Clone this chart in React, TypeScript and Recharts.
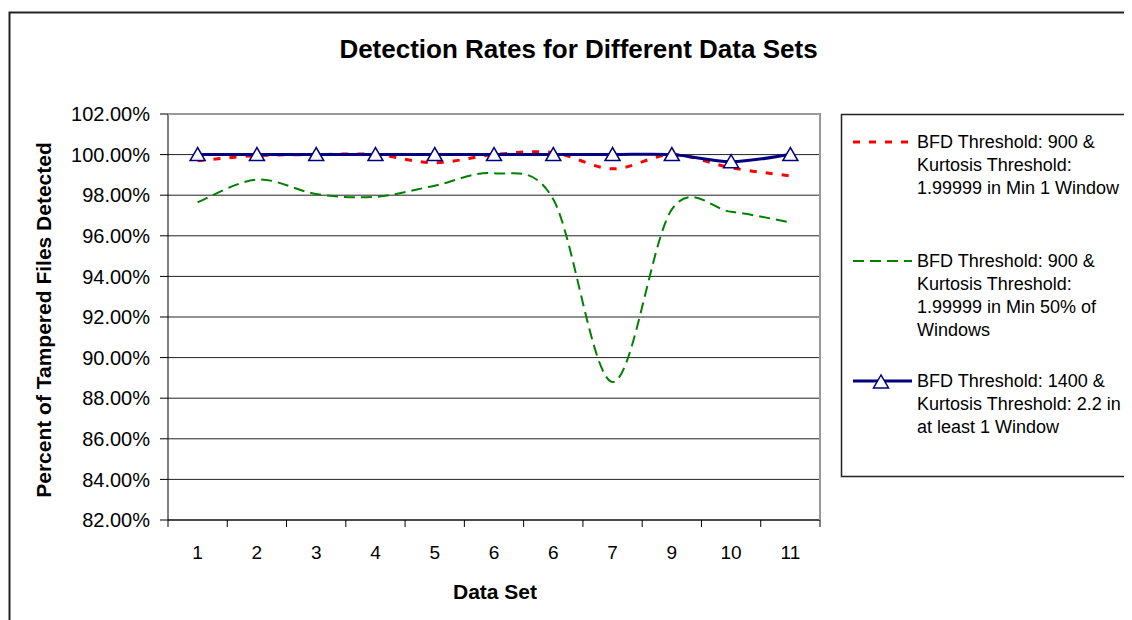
import React from "react";
import { LineChart, Line, XAxis, YAxis, CartesianGrid } from "recharts";

const dataSets = ["1", "2", "3", "4", "5", "6", "6", "7", "9", "10", "11"];
const bfd900Min1 = [99.7, 99.95, 100.0, 100.0, 99.6, 100.0, 100.1, 99.3, 100.0, 99.35, 98.95];
const bfd900Min50 = [97.65, 98.77, 98.06, 97.92, 98.47, 99.08, 97.8, 88.8, 97.3, 97.18, 96.66];
const bfd1400 = [100, 100, 100, 100, 100, 100, 100, 100, 100, 99.65, 100];
const yTicks = [82, 84, 86, 88, 90, 92, 94, 96, 98, 100, 102];

const legendLines = [
  ["BFD Threshold: 900 &", "Kurtosis Threshold:", "1.99999 in Min 1 Window"],
  ["BFD Threshold: 900 &", "Kurtosis Threshold:", "1.99999 in Min 50% of", "Windows"],
  ["BFD Threshold: 1400 &", "Kurtosis Threshold: 2.2 in", "at least 1 Window"],
];

const data = dataSets.map((set, i) => ({
  set,
  min1: bfd900Min1[i],
  min50: bfd900Min50[i],
  t1400: bfd1400[i],
}));

const W = 1124;
const H = 612;
const plot = { left: 160, top: 106, right: 812, bottom: 512 };
const band = (plot.right - plot.left) / dataSets.length;
const font = "'Liberation Sans', Arial, Helvetica, sans-serif";

// excel-like smoothed line (catmull-rom through every point)
const excelSmooth: any = (context: any) => {
  let pts: number[][] = [];
  return {
    areaStart() {},
    areaEnd() {},
    lineStart() {
      pts = [];
    },
    point(x: number, y: number) {
      pts.push([+x, +y]);
    },
    lineEnd() {
      if (!pts.length) return;
      context.moveTo(pts[0][0], pts[0][1]);
      for (let i = 0; i < pts.length - 1; i++) {
        const p0 = pts[i - 1] || pts[i];
        const p1 = pts[i];
        const p2 = pts[i + 1];
        const p3 = pts[i + 2] || p2;
        context.bezierCurveTo(
          p1[0] + (p2[0] - p0[0]) / 6,
          p1[1] + (p2[1] - p0[1]) / 6,
          p2[0] - (p3[0] - p1[0]) / 6,
          p2[1] - (p3[1] - p1[1]) / 6,
          p2[0],
          p2[1]
        );
      }
    },
  };
};

const triangle = (cx: number, cy: number) =>
  `${cx},${cy - 7} ${cx - 7.5},${cy + 6} ${cx + 7.5},${cy + 6}`;

const TriangleDot = (props: any) => {
  const { cx, cy, index } = props;
  if (cx == null || cy == null) return <g key={index} />;
  return (
    <polygon
      key={index}
      points={triangle(cx, cy)}
      fill="#fff"
      stroke="#000080"
      strokeWidth={1.5}
    />
  );
};

const XTick = (props: any) => {
  const { x, y, payload, index } = props;
  const half = band / 2;
  return (
    <g>
      <line x1={x - half} x2={x - half} y1={y} y2={y + 7} stroke="#000" />
      {index === dataSets.length - 1 && (
        <line x1={x + half} x2={x + half} y1={y} y2={y + 7} stroke="#000" />
      )}
      <text
        x={x}
        y={y + 32}
        textAnchor="middle"
        dominantBaseline="central"
        fontSize={19}
        fill="#000"
      >
        {payload.value}
      </text>
    </g>
  );
};

const legendRows = [
  { color: "#FF0000", width: 3, dash: "7 9", marker: false, y: 134 },
  { color: "#008000", width: 2, dash: "11 6", marker: false, y: 253 },
  { color: "#000080", width: 3, dash: undefined, marker: true, y: 373 },
];

export default function App() {
  return (
    <div style={{ position: "relative", width: W, height: H, overflow: "hidden", fontFamily: font }}>
      <LineChart
        width={W}
        height={H}
        data={data}
        margin={{ top: plot.top, right: W - plot.right, bottom: 40, left: 20 }}
      >
        <CartesianGrid vertical={false} stroke="#222" strokeWidth={1} />
        <XAxis
          dataKey="set"
          height={60}
          padding={{ left: band / 2, right: band / 2 }}
          tickLine={false}
          tickSize={0}
          tickMargin={0}
          interval={0}
          axisLine={{ stroke: "#333", strokeWidth: 1.5 }}
          tick={<XTick />}
        />
        <YAxis
          width={140}
          domain={[82, 102]}
          ticks={yTicks}
          interval={0}
          tickFormatter={(v: number) => v.toFixed(2) + "%"}
          tickSize={8}
          tickMargin={10}
          axisLine={{ stroke: "#000" }}
          tickLine={{ stroke: "#000" }}
          tick={{ fontSize: 20, fill: "#000", fontFamily: font }}
        />
        <Line
          type={excelSmooth}
          dataKey="min1"
          stroke="#FF0000"
          strokeWidth={3}
          strokeDasharray="7 9"
          dot={false}
          isAnimationActive={false}
        />
        <Line
          type={excelSmooth}
          dataKey="min50"
          stroke="#008000"
          strokeWidth={2}
          strokeDasharray="11 6"
          dot={false}
          isAnimationActive={false}
        />
        <Line
          type={excelSmooth}
          dataKey="t1400"
          stroke="#000080"
          strokeWidth={3}
          dot={(p: any) => <TriangleDot key={p.index} {...p} />}
          isAnimationActive={false}
        />
      </LineChart>

      <svg
        width={W}
        height={H}
        style={{ position: "absolute", left: 0, top: 0, pointerEvents: "none" }}
        fontFamily={font}
      >
        <path d={`M1.5 ${H} V4.5 H${W}`} fill="none" stroke="#222" strokeWidth={2} />
        <path
          d={`M${plot.left} ${plot.top} H${plot.right} V${plot.bottom}`}
          fill="none"
          stroke="#999"
          strokeWidth={2}
        />
        <text x={570.5} y={40.5} textAnchor="middle" dominantBaseline="central" fontSize={26} fontWeight="bold">
          Detection Rates for Different Data Sets
        </text>
        <text x={487} y={583} textAnchor="middle" dominantBaseline="central" fontSize={21} fontWeight="bold">
          Data Set
        </text>
        <text
          x={35}
          y={312}
          textAnchor="middle"
          dominantBaseline="central"
          fontSize={21}
          fontWeight="bold"
          transform="rotate(-90 35 312)"
        >
          Percent of Tampered Files Detected
        </text>

        <rect x={833.5} y={106.5} width={400} height={362} fill="#fff" stroke="#222" strokeWidth={1.5} />
        {legendRows.map((r, i) => (
          <g key={i}>
            <line
              x1={845}
              x2={904}
              y1={r.y}
              y2={r.y}
              stroke={r.color}
              strokeWidth={r.width}
              strokeDasharray={r.dash}
            />
            {r.marker && (
              <polygon points={triangle(873, r.y + 1)} fill="#fff" stroke="#000080" strokeWidth={1.5} />
            )}
            {legendLines[i].map((t, j) => (
              <text key={j} x={909} y={r.y + j * 23} dominantBaseline="central" fontSize={18} fill="#000">
                {t}
              </text>
            ))}
          </g>
        ))}
      </svg>
    </div>
  );
}
